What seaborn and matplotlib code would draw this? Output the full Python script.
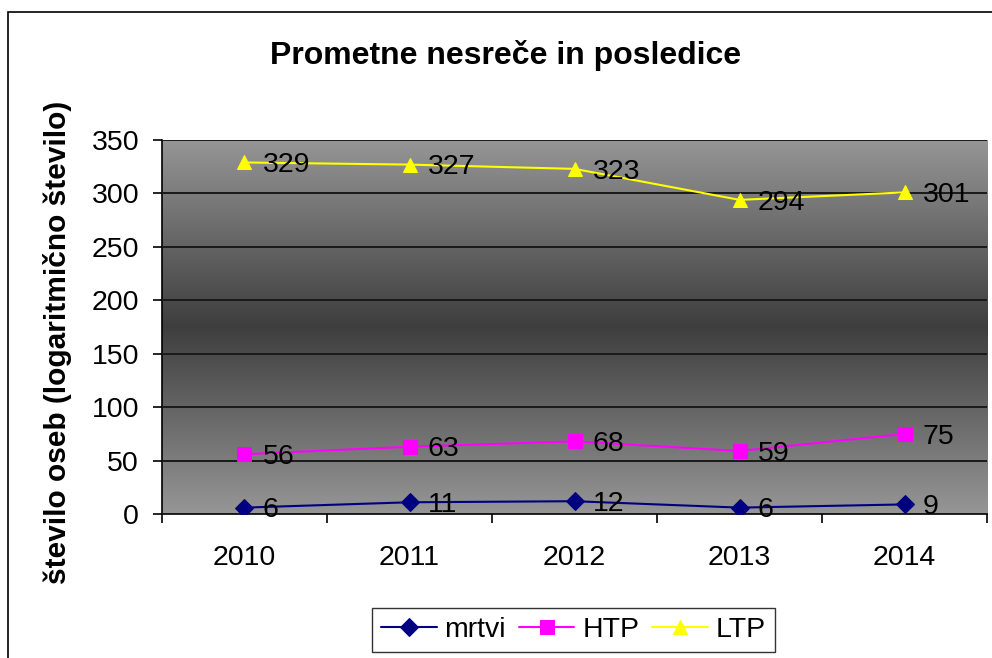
import numpy as np
import pandas as pd
import matplotlib
matplotlib.use("Agg")
import matplotlib.pyplot as plt
from matplotlib.colors import LinearSegmentedColormap
import seaborn as sns

years = [2010, 2011, 2012, 2013, 2014]
mrtvi = [6, 11, 12, 6, 9]
htp = [56, 63, 68, 59, 75]
ltp = [329, 327, 323, 294, 301]

series_names = ["mrtvi", "HTP", "LTP"]
series_colors = ["#000080", "#FF00FF", "#FFFF00"]
series_markers = ["D", "s", "^"]

df = pd.DataFrame({
    "Leto": years * 3,
    "Število": mrtvi + htp + ltp,
    "Serija": [n for n in series_names for _ in years],
})

sns.set_theme(style="white")
plt.rcParams["font.family"] = ["Liberation Sans", "DejaVu Sans"]
plt.rcParams.update({"text.color": "black", "axes.labelcolor": "black",
                     "xtick.color": "black", "ytick.color": "black"})

FS = 20.5

fig = plt.figure(figsize=(9.92, 6.58), dpi=100)
ax = fig.add_axes([0.1633, 0.2188, 0.8317, 0.5684])

# Excel-like gradient fill: light at top and bottom, dark in the middle
grad_cmap = LinearSegmentedColormap.from_list(
    "excel", ["#969696", "#3e3e3e", "#969696"])
grad = np.linspace(0, 1, 256).reshape(-1, 1)
ax.imshow(grad, cmap=grad_cmap, aspect="auto", extent=[0, 1, 0, 1],
          transform=ax.transAxes, zorder=0, interpolation="bicubic")

for name, color, marker in zip(series_names, series_colors, series_markers):
    sub = df[df["Serija"] == name]
    msize = 9 if marker == "D" else 10
    sns.lineplot(data=sub, x="Leto", y="Število", ax=ax, color=color,
                 marker=marker, markersize=msize, markeredgecolor=color,
                 linewidth=1.5, label=name, zorder=3)
    for x, y in zip(sub["Leto"], sub["Število"]):
        ax.annotate(str(y), (x, y), xytext=(13, -2), textcoords="offset points",
                    ha="left", va="center", fontsize=FS, color="black", zorder=4)

ax.set_xlim(2009.5, 2014.5)
ax.set_ylim(0, 350)
ax.set_yticks(range(0, 351, 50))
ax.set_xticks(years)
ax.set_xticks(np.arange(2009.5, 2014.6, 1), minor=True)
ax.tick_params(axis="x", which="major", length=0, pad=22, labelsize=FS)
ax.tick_params(axis="x", which="minor", length=6.5, width=1.2, color="black",
               direction="out", bottom=True)
ax.tick_params(axis="y", which="major", length=6.5, width=1.2, color="black",
               direction="out", left=True, pad=10, labelsize=FS)
ax.grid(axis="y", color="#1a1a1a", linewidth=1.4, zorder=1)
ax.set_axisbelow(False)
for g in ax.get_ygridlines():
    g.set_zorder(1)

for side in ["top", "right"]:
    ax.spines[side].set_visible(False)
ax.spines["left"].set_color("black")
ax.spines["left"].set_linewidth(1.2)
ax.spines["bottom"].set_color("black")
ax.spines["bottom"].set_linewidth(1.2)

ax.set_xlabel("")
ax.set_ylabel("število oseb (logaritmično število)", fontsize=21.5,
              fontweight="bold")
ax.yaxis.set_label_coords(-0.109, 0.46)

fig.text(0.510, 0.916, "Prometne nesreče in posledice", ha="center",
         va="center", fontsize=23, fontweight="bold")

leg = ax.legend(loc="center", ncol=3, frameon=True,
                fontsize=FS, handlelength=1.95, columnspacing=0.45,
                handletextpad=0.28, borderpad=0.32, borderaxespad=0,
                fancybox=False)
leg.get_frame().set_edgecolor("black")
leg.get_frame().set_linewidth(1.0)
leg.set_bbox_to_anchor((0.578, 0.043), transform=fig.transFigure)

# outer chart border (partly cut at right/bottom like the reference)
border = plt.Rectangle((0.008, -0.02), 1.05, 1.0 - 0.018 + 0.02,
                       transform=fig.transFigure, fill=False,
                       edgecolor="black", linewidth=1.2)
fig.patches.append(border)

fig.savefig("out.png", dpi=100)
